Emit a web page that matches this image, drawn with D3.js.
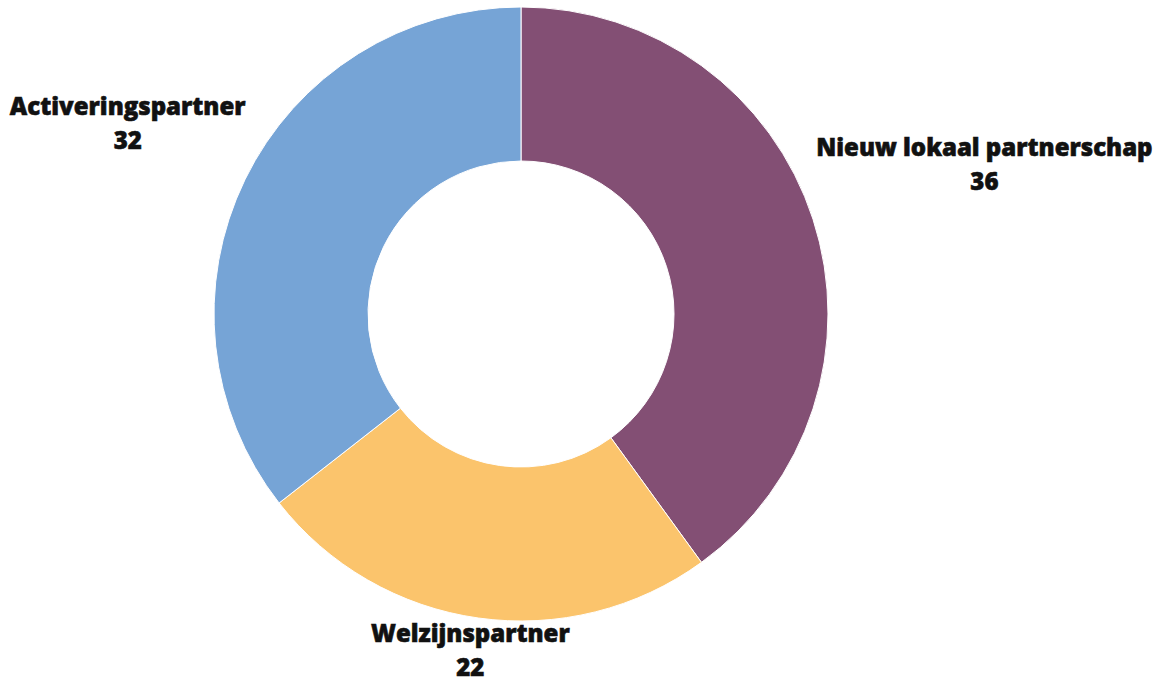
<!DOCTYPE html>
<html>
<head>
<meta charset="utf-8">
<script src="https://cdn.jsdelivr.net/npm/d3@7"></script>
<style>
  body { margin: 0; background: #fff; }
  svg { display: block; }
</style>
</head>
<body>
<svg id="chart"></svg>
<script>
// 数据
const categories = ['Nieuw lokaal partnerschap', 'Welzijnspartner', 'Activeringspartner']
const values = [36, 22, 32]
const colors = ['#834F74', '#FBC46C', '#76A4D6']

const width = 1165
const height = 683
const cx = 521
const cy = 314
const outerR = 307
const innerR = 153
const labelGap = 10
const fontSize = 24
const lineHeight = 34

const svg = d3.select('#chart').attr('width', width).attr('height', height)

const pie = d3.pie().sort(null).value(d => d.value)
const arc = d3.arc().innerRadius(innerR).outerRadius(outerR)

const data = categories.map((c, i) => ({ name: c, value: values[i], color: colors[i] }))
const arcs = pie(data)

const g = svg.append('g').attr('transform', `translate(${cx}, ${cy})`)

g.selectAll('path').data(arcs).enter()
    .append('path')
    .attr('d', arc)
    .attr('fill', d => d.data.color)
    .attr('stroke', '#fff')
    .attr('stroke-width', 1)

// 标签：放在扇区外侧，按文字框大小往外推
const labels = g.selectAll('g.label').data(arcs).enter()
    .append('g')
    .attr('class', 'label')

labels.append('text')
    .attr('text-anchor', 'middle')
    .attr('font-family', '"Open Sans", sans-serif')
    .attr('font-weight', 800)
    .attr('font-size', fontSize)
    .attr('fill', '#111')
    .attr('stroke', '#111')
    .attr('stroke-width', 0.6)
    .selectAll('tspan').data(d => [d.data.name, d.data.value]).enter()
    .append('tspan')
    .attr('x', 0)
    .attr('dy', (v, i) => i === 0 ? 0 : lineHeight)
    .text(v => v)

labels.each(function (d) {
    const node = d3.select(this)
    const box = this.getBBox()
    const mid = (d.startAngle + d.endAngle) / 2
    const ux = Math.sin(mid)
    const uy = -Math.cos(mid)
    const support = box.width / 2 * Math.abs(ux) + box.height / 2 * Math.abs(uy)
    const r = outerR + labelGap + support
    let x = ux * r
    let y = uy * r
    // 不要超出画布底部/顶部
    const maxY = height - cy - box.height / 2
    const minY = -cy + box.height / 2
    y = Math.max(minY, Math.min(maxY, y))
    const bx = box.x + box.width / 2
    const by = box.y + box.height / 2
    node.attr('transform', `translate(${x - bx}, ${y - by})`)
})
</script>
</body>
</html>
